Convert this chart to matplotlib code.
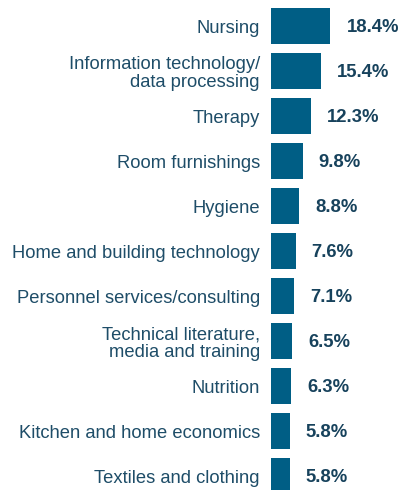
import matplotlib
matplotlib.use('Agg')
import matplotlib.pyplot as plt

plt.rcParams['font.family'] = ['Liberation Sans', 'DejaVu Sans']

categories = ['Nursing', 'Information technology/\ndata processing', 'Therapy',
              'Room furnishings', 'Hygiene', 'Home and building technology',
              'Personnel services/consulting',
              'Technical literature,\nmedia and training', 'Nutrition',
              'Kitchen and home economics', 'Textiles and clothing']
values = [18.4, 15.4, 12.3, 9.8, 8.8, 7.6, 7.1, 6.5, 6.3, 5.8, 5.8]

bar_color = '#005e85'
label_color = '#1e4d68'
value_color = '#17425c'

fig = plt.figure(figsize=(4.01, 4.90), dpi=100)
ax = fig.add_axes([271 / 401, 0, 130 / 401, 1])

pos = list(range(len(values)))
ax.barh(pos, values, height=0.78, color=bar_color)
ax.set_xlim(0, 130 / 3.23)
ax.set_ylim(10.311, -0.578)

# value labels right of each bar
for p, v in zip(pos, values):
    ax.annotate('{:.1f}%'.format(v), (v, p), xytext=(16, -1.5), textcoords='offset pixels',
                ha='left', va='center', fontsize=13.3, fontweight='bold', color=value_color)

ax.set_yticks(pos)
ax.set_yticklabels(categories, fontsize=13.2, color=label_color)
for t in ax.get_yticklabels():
    t.set_linespacing(1.05)
ax.tick_params(axis='y', length=0, pad=8)
ax.set_xticks([])
for s in ax.spines.values():
    s.set_visible(False)

fig.savefig('out.png', dpi=100)
